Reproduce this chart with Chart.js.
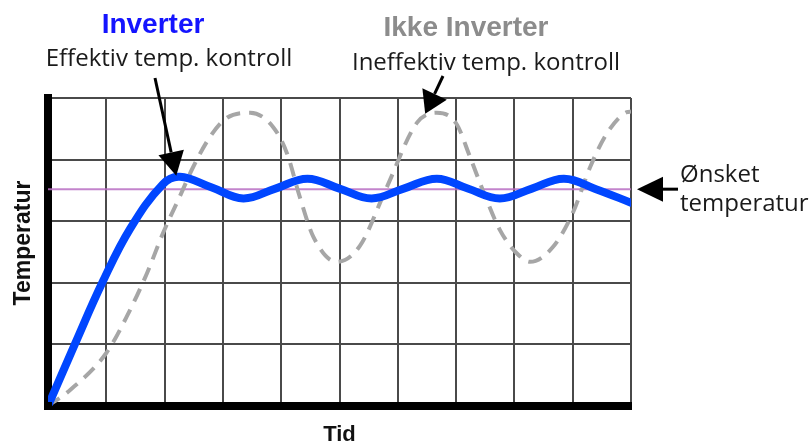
<!DOCTYPE html>
<html>
<head>
<meta charset="utf-8">
<script src="https://cdn.jsdelivr.net/npm/chart.js@4"></script>
<style>
  html, body { margin: 0; padding: 0; background: #fff; }
  #chart { display: block; }
</style>
</head>
<body>
<canvas id="chart" width="810" height="445"></canvas>
<script>
// Inverter - blue curve (tid, temperatur)
const inverterX = [0, 0.45, 0.94, 1.41, 1.97, 2.26, 2.8, 3.35, 3.9, 4.45, 5.0, 5.55, 6.1, 6.67, 7.2, 7.75, 8.3, 8.85, 9.4, 10];
const inverterY = [0, 0.98, 2.02, 2.88, 3.6, 3.72, 3.55, 3.37, 3.53, 3.69, 3.53, 3.37, 3.53, 3.69, 3.53, 3.37, 3.53, 3.69, 3.52, 3.30];

// Ikke inverter - grey dashed curve
const ikkeX = [0, 0.38, 1.0, 1.35, 1.70, 1.97, 2.26, 2.49, 2.8, 3.07, 3.47, 3.86, 4.1, 4.32, 4.55, 4.95, 5.35, 5.81, 6.33, 6.67, 7.0, 7.24, 7.46, 7.75, 8.04, 8.27, 8.66, 9.0, 9.3, 9.59, 9.93, 10];
const ikkeY = [0, 0.26, 0.86, 1.45, 2.16, 2.8, 3.4, 3.88, 4.4, 4.68, 4.76, 4.53, 4.1, 3.39, 2.75, 2.34, 2.6, 3.55, 4.6, 4.76, 4.59, 4.04, 3.5, 2.86, 2.48, 2.34, 2.58, 3.13, 3.88, 4.43, 4.77, 4.78];

// Ønsket temperatur
const onsketTemp = 3.52;
const tidRange = [0, 10];
const tempRange = [0, 5];

const pts = (xs, ys) => xs.map((x, i) => ({ x: x, y: ys[i] }));

function drawArrow(ctx, x0, y0, x1, y1, headLen, headW) {
  const a = Math.atan2(y1 - y0, x1 - x0);
  const bx = x1 - headLen * Math.cos(a), by = y1 - headLen * Math.sin(a);
  ctx.save();
  ctx.strokeStyle = '#000';
  ctx.fillStyle = '#000';
  ctx.lineWidth = 3;
  ctx.beginPath();
  ctx.moveTo(x0, y0);
  ctx.lineTo(bx, by);
  ctx.stroke();
  ctx.beginPath();
  ctx.moveTo(x1, y1);
  ctx.lineTo(bx + headW / 2 * Math.sin(a), by - headW / 2 * Math.cos(a));
  ctx.lineTo(bx - headW / 2 * Math.sin(a), by + headW / 2 * Math.cos(a));
  ctx.closePath();
  ctx.fill();
  ctx.restore();
}

const annotations = {
  id: 'annotations',
  afterDraw(chart) {
    const { ctx, chartArea, scales } = chart;
    const xs = scales.x, ys = scales.y;
    ctx.save();
    // fill the corner where the two thick axes meet
    ctx.fillStyle = '#000';
    ctx.fillRect(chartArea.left - 4, chartArea.bottom - 4, 8, 8);

    ctx.textAlign = 'center';
    ctx.textBaseline = 'alphabetic';
    ctx.font = 'bold 28px "Liberation Sans"';
    ctx.fillStyle = '#1414ff';
    ctx.fillText('Inverter', 153, 33);
    ctx.fillStyle = '#8c8c8c';
    ctx.fillText('Ikke Inverter', 466, 36);

    ctx.fillStyle = '#1a1a1a';
    ctx.font = '24px "Open Sans"';
    ctx.fillText('Effektiv temp. kontroll', 169, 66);
    ctx.fillText('Ineffektiv temp. kontroll', 486, 70);

    ctx.textAlign = 'left';
    ctx.fillText('Ønsket', 680, 182);
    ctx.fillText('temperatur', 680, 211);

    // y axis title
    ctx.save();
    ctx.translate(24, 243);
    ctx.rotate(-Math.PI / 2);
    ctx.textAlign = 'center';
    ctx.textBaseline = 'middle';
    ctx.font = 'bold 23px "Liberation Sans"';
    ctx.fillStyle = '#111';
    ctx.fillText('Temperatur', 0, 0);
    ctx.restore();

    // arrows
    drawArrow(ctx, 155, 78, xs.getPixelForValue(2.2), ys.getPixelForValue(3.72) - 1, 24, 26);
    drawArrow(ctx, 443, 76, xs.getPixelForValue(6.47), ys.getPixelForValue(4.76) + 1, 22, 27);
    const ty = ys.getPixelForValue(onsketTemp);
    drawArrow(ctx, 678, ty, chartArea.right + 6, ty, 26, 25);
    ctx.restore();
  }
};

new Chart(document.getElementById('chart').getContext('2d'), {
  type: 'line',
  data: {
    datasets: [{
      label: 'Inverter',
      data: pts(inverterX, inverterY),
      borderColor: '#0046ff',
      borderWidth: 8,
      pointRadius: 0,
      tension: 0.4,
      borderCapStyle: 'round'
    }, {
      label: 'Ikke Inverter',
      data: pts(ikkeX, ikkeY),
      borderColor: '#a6a6a6',
      borderWidth: 4,
      borderDash: [14, 9],
      pointRadius: 0,
      cubicInterpolationMode: 'monotone'
    }, {
      label: 'Ønsket temperatur',
      data: pts(tidRange, [onsketTemp, onsketTemp]),
      borderColor: 'rgba(185, 110, 195, 0.85)',
      borderWidth: 2,
      pointRadius: 0
    }]
  },
  options: {
    responsive: false,
    devicePixelRatio: 1,
    animation: false,
    layout: { padding: { left: 8, top: 98, right: 179, bottom: 0 } },
    plugins: {
      legend: { display: false },
      tooltip: { enabled: false }
    },
    scales: {
      x: {
        type: 'linear',
        min: tidRange[0],
        max: tidRange[1],
        ticks: { stepSize: 1, display: false },
        grid: { color: '#4a4a4a', lineWidth: 2, drawTicks: false },
        border: { color: '#000', width: 8 },
        title: {
          display: true,
          text: 'Tid',
          color: '#111',
          font: { family: 'Liberation Sans', size: 22, weight: 'bold' },
          padding: { top: 0, bottom: -3 }
        },
        afterFit: (s) => { s.height = 39; }
      },
      y: {
        min: tempRange[0],
        max: tempRange[1],
        ticks: { stepSize: 1, display: false },
        grid: { color: '#4a4a4a', lineWidth: 2, drawTicks: false },
        border: { color: '#000', width: 8 },
        afterFit: (s) => { s.width = 40; }
      }
    }
  },
  plugins: [annotations]
});
</script>
</body>
</html>
